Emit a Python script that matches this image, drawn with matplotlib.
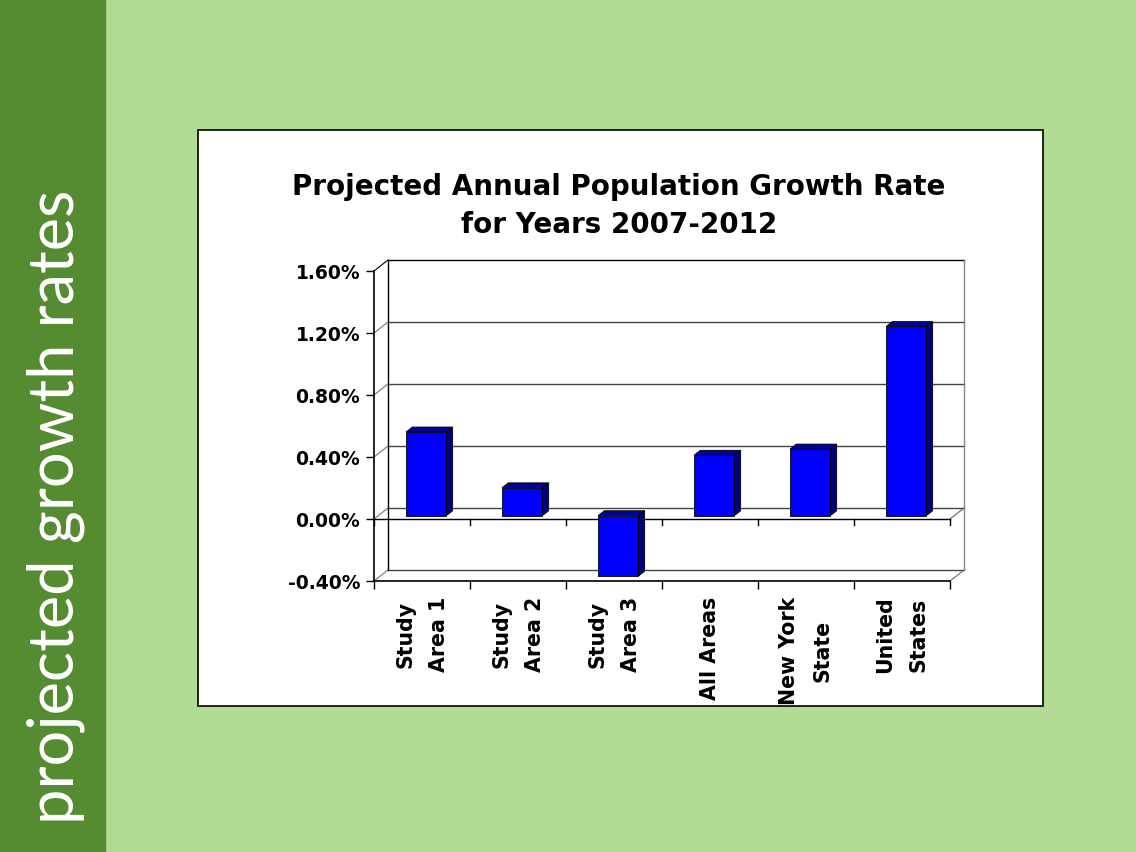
import matplotlib
matplotlib.use('Agg')
import matplotlib.pyplot as plt
from matplotlib.patches import Rectangle, Polygon

# growth rate per area, percent per year
areas = ['Study\nArea 1', 'Study\nArea 2', 'Study\nArea 3', 'All Areas', 'New York\nState', 'United\nStates']
rates = [0.54, 0.18, -0.39, 0.39, 0.43, 1.22]
yticks = [-0.40, 0.00, 0.40, 0.80, 1.20, 1.60]

W, H = 1136, 853
LIGHT = '#b2dc94'
DARK = '#568c31'
FONT = 'DejaVu Sans'

fig = plt.figure(figsize=(W / 100, H / 100), dpi=100)
fig.patch.set_facecolor(LIGHT)
fig.add_artist(Rectangle((0, 0), 105 / W, 1, transform=fig.transFigure, color=DARK, zorder=0))
fig.add_artist(Rectangle((198 / W, 1 - 707 / H), (1043 - 198) / W, (707 - 131) / H,
                         transform=fig.transFigure, facecolor='white', edgecolor='black', lw=1.2, zorder=0))
fig.text(56 / W, 1 - 507 / H, 'projected growth rates', rotation=90, color='white',
         fontsize=45.5, family='Lato', fontweight='normal', ha='center', va='center')

fig.text(619 / W, 1 - 206 / H, 'Projected Annual Population Growth Rate\nfor Years 2007-2012',
         ha='center', va='center', fontsize=20, fontweight='bold', family=FONT, linespacing=1.45)

ax = fig.add_axes([374 / W, 1 - 582 / H, 576 / W, 310 / H])
ax.patch.set_alpha(0)
x0, x1 = -0.5, len(areas) - 0.5
y0, y1 = yticks[0], yticks[-1]
ax.set_xlim(x0, x1)
ax.set_ylim(y0, y1)
DX = 14 / 96.0   # depth offset in category units
DY = 11 / 155.0  # depth offset in percent units

# back wall, side wall and gridlines
for v in yticks:
    c = 'black' if v == y1 else '#444444'
    ax.plot([x0 + DX, x1 + DX], [v + DY, v + DY], color=c, lw=1.0, clip_on=False)
    ax.plot([x0, x0 + DX], [v, v + DY], color='#777777' if v != y1 else 'black', lw=0.8, clip_on=False)
ax.plot([x0 + DX, x0 + DX], [y0 + DY, y1 + DY], color='black', lw=1.0, clip_on=False)
ax.plot([x1 + DX, x1 + DX], [y0 + DY, y1 + DY], color='#888888', lw=1.0, clip_on=False)
ax.plot([x1, x1 + DX], [y0, y0 + DY], color='#666666', lw=0.8, clip_on=False)

# category axis at zero
ax.plot([x0, x1], [0, 0], color='black', lw=1.0, clip_on=False)
ax.plot([x1, x1 + DX], [0, DY], color='#666666', lw=0.8, clip_on=False)
for b in range(len(areas) + 1):
    ax.plot([x0 + b, x0 + b], [0, -0.04], color='black', lw=1.0, clip_on=False)

# 3-D style columns
w, f, d = 0.42, 0.3, 0.45
xs = [i + f * DX for i in range(len(areas))]
ax.bar(xs, rates, width=w, bottom=f * DY, color='#0000ff', edgecolor='black', lw=0.6, zorder=5)
for x, v in zip(xs, rates):
    xl, xr = x - w / 2, x + w / 2
    top = max(v, 0)
    lo = min(v, 0)
    side = [(xr, lo + f * DY), (xr, top + f * DY), (xr + d * DX, top + (f + d) * DY), (xr + d * DX, lo + (f + d) * DY)]
    cap = [(xl, top + f * DY), (xr, top + f * DY), (xr + d * DX, top + (f + d) * DY), (xl + d * DX, top + (f + d) * DY)]
    ax.add_patch(Polygon(side, closed=True, facecolor='#000080', edgecolor='black', lw=0.6, zorder=5))
    ax.add_patch(Polygon(cap, closed=True, facecolor='#00009a', edgecolor='black', lw=0.6, zorder=5))

for s in ['top', 'right']:
    ax.spines[s].set_visible(False)
ax.spines['left'].set_linewidth(1.2)
ax.spines['bottom'].set_linewidth(1.2)
ax.set_yticks(yticks)
ax.set_yticklabels([f'{v:.2f}%' for v in yticks], fontsize=13.5, fontweight='bold', family=FONT)
ax.set_xticks([x0 + b for b in range(len(areas) + 1)])
ax.set_xticklabels([])
ax.tick_params(axis='both', direction='out', length=6, width=1.0, pad=4)

for i, name in enumerate(areas):
    ax.text(i, y0 - 0.095, name, rotation=90, ha='center', va='top', multialignment='center',
            fontsize=14.8, fontweight='bold', family=FONT, linespacing=1.85)

fig.savefig('out.png', dpi=100, facecolor=fig.get_facecolor())
